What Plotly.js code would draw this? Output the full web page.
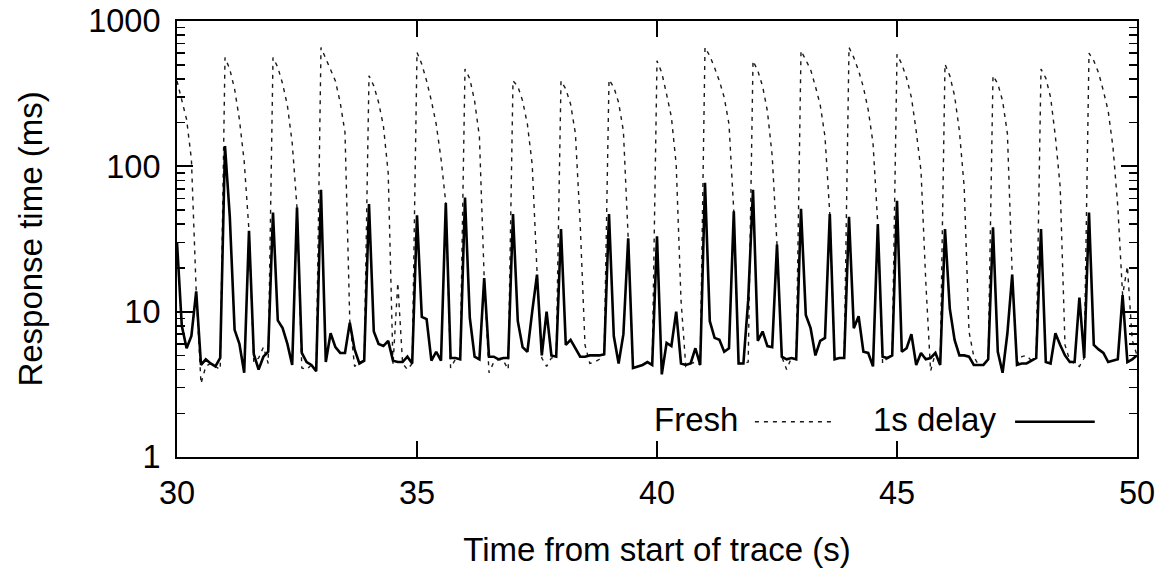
<!DOCTYPE html>
<html>
<head>
<meta charset="utf-8">
<script src="https://cdn.plot.ly/plotly-3.0.1.min.js"></script>
<style>
  html, body { margin: 0; padding: 0; background: #fff; }
  #chart { width: 1163px; height: 569px; }
</style>
</head>
<body>
<div id="chart"></div>
<script>
// Time from start of trace (s), sampled every 0.1 s
const timeS = [
  30.0, 30.1, 30.2, 30.3, 30.4, 30.5, 30.6, 30.7, 30.8, 30.9,
  31.0, 31.1, 31.2, 31.3, 31.4, 31.5, 31.6, 31.7, 31.8, 31.9,
  32.0, 32.1, 32.2, 32.3, 32.4, 32.5, 32.6, 32.7, 32.8, 32.9,
  33.0, 33.1, 33.2, 33.3, 33.4, 33.5, 33.6, 33.7, 33.8, 33.9,
  34.0, 34.1, 34.2, 34.3, 34.4, 34.5, 34.6, 34.7, 34.8, 34.9,
  35.0, 35.1, 35.2, 35.3, 35.4, 35.5, 35.6, 35.7, 35.8, 35.9,
  36.0, 36.1, 36.2, 36.3, 36.4, 36.5, 36.6, 36.7, 36.8, 36.9,
  37.0, 37.1, 37.2, 37.3, 37.4, 37.5, 37.6, 37.7, 37.8, 37.9,
  38.0, 38.1, 38.2, 38.3, 38.4, 38.5, 38.6, 38.7, 38.8, 38.9,
  39.0, 39.1, 39.2, 39.3, 39.4, 39.5, 39.6, 39.7, 39.8, 39.9,
  40.0, 40.1, 40.2, 40.3, 40.4, 40.5, 40.6, 40.7, 40.8, 40.9,
  41.0, 41.1, 41.2, 41.3, 41.4, 41.5, 41.6, 41.7, 41.8, 41.9,
  42.0, 42.1, 42.2, 42.3, 42.4, 42.5, 42.6, 42.7, 42.8, 42.9,
  43.0, 43.1, 43.2, 43.3, 43.4, 43.5, 43.6, 43.7, 43.8, 43.9,
  44.0, 44.1, 44.2, 44.3, 44.4, 44.5, 44.6, 44.7, 44.8, 44.9,
  45.0, 45.1, 45.2, 45.3, 45.4, 45.5, 45.6, 45.7, 45.8, 45.9,
  46.0, 46.1, 46.2, 46.3, 46.4, 46.5, 46.6, 46.7, 46.8, 46.9,
  47.0, 47.1, 47.2, 47.3, 47.4, 47.5, 47.6, 47.7, 47.8, 47.9,
  48.0, 48.1, 48.2, 48.3, 48.4, 48.5, 48.6, 48.7, 48.8, 48.9,
  49.0, 49.1, 49.2, 49.3, 49.4, 49.5, 49.6, 49.7, 49.8, 49.9,
  50.0
];

// Response time (ms), "Fresh"
const freshMs = [
  387, 290, 210, 112, 13.8, 3.2, 4.2, 4.4, 4.2, 4.0,
  561, 465, 340, 210, 108, 36, 4.5, 4.8, 5.7, 4.4,
  561, 480, 370, 262, 145, 52, 4.1, 4.0, 4.3, 3.9,
  658, 547, 467, 387, 275, 171, 8.6, 4.2, 4.5, 4.6,
  420, 358, 275, 190, 90, 4.3, 15.8, 4.4, 4.0, 4.4,
  608, 505, 387, 282, 195, 113, 56, 4.1, 4.7, 4.7,
  467, 400, 282, 160, 17, 3.8, 4.5, 4.7, 4.6, 4.0,
  387, 355, 282, 195, 103, 19, 4.8, 4.2, 4.8, 4.9,
  387, 340, 268, 168, 40, 5.9, 4.4, 4.5, 4.7, 5.1,
  395, 350, 275, 175, 32, 4.1, 4.2, 4.3, 4.5, 4.3,
  532, 440, 313, 218, 103, 12, 4.2, 4.4, 4.5, 4.3,
  658, 575, 476, 387, 298, 195, 49, 4.4, 4.4, 4.5,
  532, 455, 355, 240, 118, 29, 4.9, 4.0, 4.8, 4.7,
  625, 545, 464, 355, 265, 160, 47, 4.7, 4.8, 4.8,
  658, 560, 455, 350, 245, 145, 40, 4.4, 4.8, 5.0,
  590, 505, 405, 298, 175, 93, 16, 3.9, 5.2, 4.3,
  505, 420, 305, 175, 72, 7.3, 4.9, 4.3, 4.3, 4.7,
  420, 370, 282, 168, 18, 4.3, 4.9, 5.0, 4.6, 4.8,
  467, 405, 298, 160, 72, 5.9, 4.6, 4.4, 4.2, 4.8,
  600, 532, 440, 330, 240, 135, 53, 13, 20.5, 6.4,
  5.0
];

// Response time (ms), "1s delay"
const delayMs = [
  30, 8, 5.6, 6.8, 13.8, 4.3, 4.7, 4.4, 4.2, 4.8,
  138, 45, 7.5, 6.0, 3.8, 36, 5.1, 4.0, 4.9, 5.3,
  48, 8.7, 7.7, 6.0, 4.3, 52, 5.2, 4.5, 4.3, 3.9,
  69, 4.5, 7.1, 5.7, 5.2, 5.2, 8.4, 5.5, 4.4, 4.6,
  55, 7.3, 6.0, 5.8, 6.3, 4.6, 4.5, 4.5, 4.9, 4.4,
  46, 9.2, 8.9, 4.6, 5.3, 4.6, 56, 4.8, 4.8, 4.7,
  61, 9.1, 4.9, 4.7, 17, 4.9, 4.9, 4.7, 4.8, 4.8,
  47, 8.6, 5.7, 5.3, 10, 18, 5.0, 10, 5.0, 4.9,
  37, 5.9, 6.4, 5.6, 4.9, 4.9, 5.0, 5.0, 5.0, 5.1,
  47, 6.8, 4.4, 7.0, 32, 4.1, 4.2, 4.3, 4.5, 4.3,
  33, 3.7, 6.1, 5.8, 10, 4.4, 4.3, 4.4, 5.6, 4.3,
  77, 8.6, 6.6, 6.4, 5.3, 5.6, 49, 4.4, 4.4, 12,
  69, 6.3, 7.3, 5.8, 5.7, 29, 4.9, 4.7, 4.8, 4.7,
  51, 9.5, 7.7, 5.0, 6.3, 6.6, 47, 4.7, 4.8, 4.8,
  45, 7.7, 9.3, 5.3, 5.2, 4.2, 40, 4.9, 4.8, 5.0,
  58, 5.3, 5.6, 7.0, 4.3, 5.2, 4.7, 4.8, 5.2, 4.3,
  37, 10.5, 6.4, 5.0, 5.0, 4.9, 4.3, 4.3, 4.3, 4.7,
  38, 5.3, 3.8, 7.1, 18, 4.3, 4.4, 4.4, 4.6, 4.8,
  37, 4.5, 4.4, 7.1, 5.9, 5.0, 4.5, 4.5, 12.5, 4.8,
  48, 5.9, 5.5, 5.2, 4.5, 4.6, 4.7, 13, 4.5, 4.7,
  5.0
];

const xTickVals = [30, 35, 40, 45, 50];
const yTickVals = [1, 10, 100, 1000];
const yTickText = ['1', '10', '100', '1000'];
const yMinorVals = [2, 3, 4, 5, 6, 7, 8, 9,
                    20, 30, 40, 50, 60, 70, 80, 90,
                    200, 300, 400, 500, 600, 700, 800, 900];
const seriesNames = ['Fresh', '1s delay'];

const FONT = 'Liberation Sans, Arial, Helvetica, sans-serif';
const FS = 33;
const TFS = 32.5;

const traces = [
  {
    x: timeS, y: freshMs, name: seriesNames[0], type: 'scatter', mode: 'lines',
    line: { color: '#1a1a1a', width: 1.4, dash: '4px,5px' }, showlegend: false
  },
  {
    x: timeS, y: delayMs, name: seriesNames[1], type: 'scatter', mode: 'lines',
    line: { color: '#000', width: 2.6 }, showlegend: false
  }
];

const layout = {
  width: 1163, height: 569,
  margin: { l: 177, r: 26, t: 21, b: 112 },
  paper_bgcolor: '#fff', plot_bgcolor: '#fff',
  font: { family: FONT, size: FS, color: '#000' },
  showlegend: false,
  xaxis: {
    range: [30, 50], tickmode: 'array', tickvals: xTickVals,
    ticks: 'inside', ticklen: 16, tickwidth: 2, tickcolor: '#000',
    showline: true, linewidth: 2, linecolor: '#000', mirror: 'ticks',
    showgrid: false, zeroline: false,
    tickfont: { family: FONT, size: TFS, color: '#000' },
    ticklabelstandoff: 6,
    title: { text: 'Time from start of trace (s)', font: { family: FONT, size: FS, color: '#000' }, standoff: 28 }
  },
  yaxis: {
    type: 'log', range: [0, 3], tickmode: 'array', tickvals: yTickVals, ticktext: yTickText,
    ticks: 'inside', ticklen: 16, tickwidth: 2, tickcolor: '#000',
    showline: true, linewidth: 2, linecolor: '#000', mirror: 'ticks',
    showgrid: false, zeroline: false,
    tickfont: { family: FONT, size: TFS, color: '#000' },
    ticklabelstandoff: 8,
    minor: { tickmode: 'array', tickvals: yMinorVals, ticks: 'inside', ticklen: 8, tickwidth: 1.5, tickcolor: '#000', showgrid: false },
    title: { text: 'Response time (ms)', font: { family: FONT, size: FS, color: '#000' }, standoff: 36 }
  },
  annotations: [
    { xref: 'paper', yref: 'paper', x: 0.586, y: 0.085, xanchor: 'right', yanchor: 'middle',
      text: seriesNames[0], showarrow: false, font: { family: FONT, size: FS, color: '#000' } },
    { xref: 'paper', yref: 'paper', x: 0.855, y: 0.085, xanchor: 'right', yanchor: 'middle',
      text: seriesNames[1], showarrow: false, font: { family: FONT, size: FS, color: '#000' } }
  ],
  shapes: [
    { type: 'line', xref: 'paper', yref: 'paper', x0: 0.602, x1: 0.685, y0: 0.081, y1: 0.081,
      line: { color: '#1a1a1a', width: 1.4, dash: '4px,5px' } },
    { type: 'line', xref: 'paper', yref: 'paper', x0: 0.873, x1: 0.956, y0: 0.081, y1: 0.081,
      line: { color: '#000', width: 2.6 } }
  ]
};

Plotly.newPlot('chart', traces, layout, { staticPlot: true, displayModeBar: false });
</script>
</body>
</html>
